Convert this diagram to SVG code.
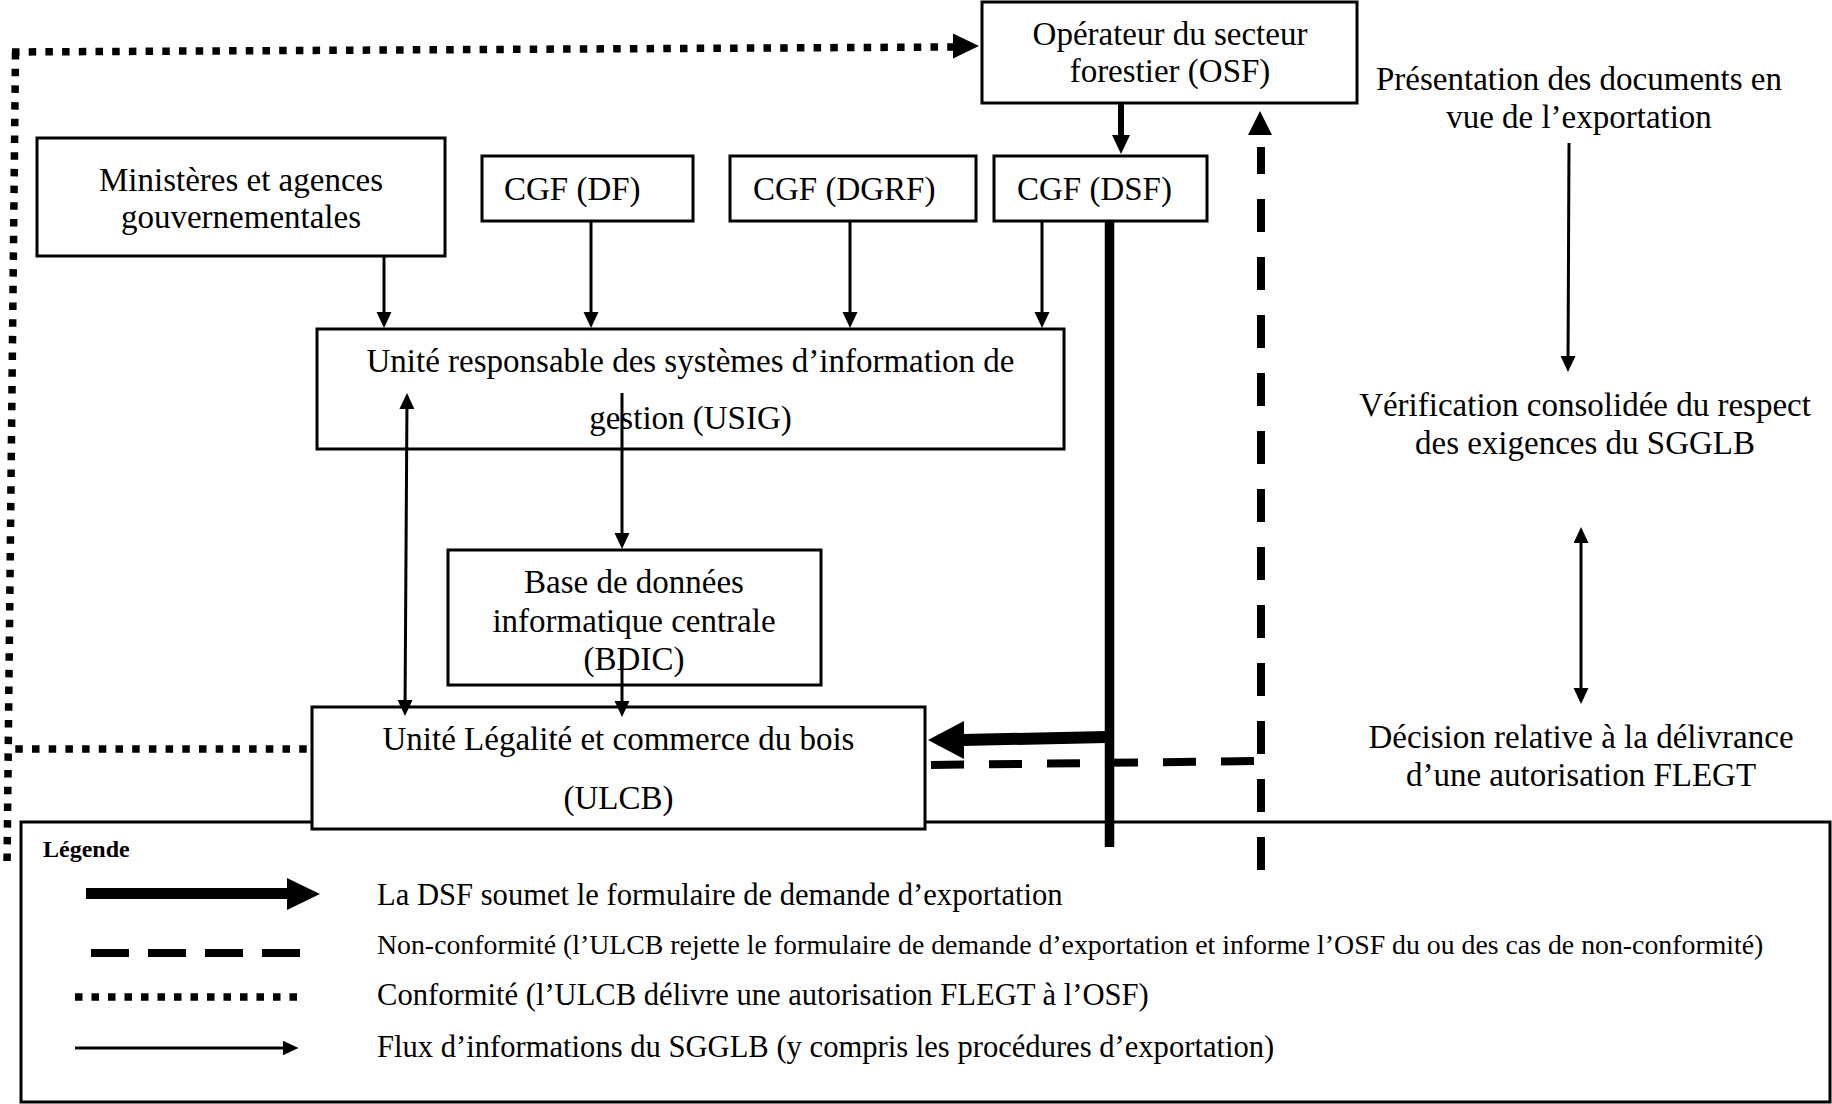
<svg xmlns="http://www.w3.org/2000/svg" width="1832" height="1104" viewBox="0 0 1832 1104">
<style>
.box{fill:#fff;stroke:#000;stroke-width:3}
.t{font-family:"Liberation Serif","Times New Roman",serif;font-size:33px;fill:#000}
.c{text-anchor:middle}
.lg{font-size:30.6px}
.lg2{font-size:27.8px}
.leg{font-size:24px;font-weight:bold}
.thin{fill:none;stroke:#000;stroke-width:3}
.dot{fill:none;stroke:#000;stroke-width:7.5;stroke-dasharray:7.5 9.2}
.dash{fill:none;stroke:#000;stroke-width:8;stroke-dasharray:33 25}
.thick{fill:none;stroke:#000;stroke-width:9.5}
.head{fill:#000}
</style>
<defs>
<marker id="ah" markerUnits="userSpaceOnUse" markerWidth="17" markerHeight="16" refX="12" refY="7.5" orient="auto-start-reverse">
<path d="M0,0 L16,7.5 L0,15 Z" fill="#000"/>
</marker>
</defs>
<rect width="1832" height="1104" fill="#fff"/>

<g id="legend">
<rect class="box" x="21" y="822" width="1809" height="280"/>
<text class="t leg" x="43" y="857">Légende</text>
<path d="M86,893.5 L288,893.5" stroke="#000" stroke-width="11" fill="none"/>
<polygon class="head" points="287,878 320,894 287,910"/>
<path d="M91,953 L300,953" fill="none" stroke="#000" stroke-width="8" stroke-dasharray="38 19"/>
<path class="dot" d="M75,997 L299,997" style="stroke-dasharray:7.5 9"/>
<path class="thin" d="M75,1048 L294.5,1048" marker-end="url(#ah)"/>
<text class="t lg" x="377" y="905">La DSF soumet le formulaire de demande d’exportation</text>
<text class="t lg2" x="377" y="954">Non-conformité (l’ULCB rejette le formulaire de demande d’exportation et informe l’OSF du ou des cas de non-conformité)</text>
<text class="t lg" x="377" y="1005">Conformité (l’ULCB délivre une autorisation FLEGT à l’OSF)</text>
<text class="t lg" x="377" y="1057">Flux d’informations du SGGLB (y compris les procédures d’exportation)</text>
</g>

<g id="osf">
<rect class="box" x="982" y="2" width="375" height="101"/>
<text class="t c" x="1170" y="45">Opérateur du secteur</text>
<text class="t c" x="1170" y="82">forestier (OSF)</text>
</g>
<g id="ministeres">
<rect class="box" x="37" y="138" width="408" height="118"/>
<text class="t c" x="241" y="191">Ministères et agences</text>
<text class="t c" x="241" y="228">gouvernementales</text>
</g>
<g id="cgf-df">
<rect class="box" x="482" y="156" width="211" height="65"/>
<text class="t" x="504" y="200">CGF (DF)</text>
</g>
<g id="cgf-dgrf">
<rect class="box" x="730" y="156" width="246" height="65"/>
<text class="t" x="753" y="200">CGF (DGRF)</text>
</g>
<g id="cgf-dsf">
<rect class="box" x="994" y="156" width="213" height="65"/>
<text class="t" x="1017" y="200">CGF (DSF)</text>
</g>
<g id="usig">
<rect class="box" x="317" y="329" width="747" height="120"/>
<text class="t c" x="690.5" y="372">Unité responsable des systèmes d’information de</text>
<text class="t c" x="690.5" y="429">gestion (USIG)</text>
</g>
<g id="bdic">
<rect class="box" x="448" y="550" width="373" height="135"/>
<text class="t c" x="634" y="593">Base de données</text>
<text class="t c" x="634" y="632">informatique centrale</text>
<text class="t c" x="634" y="670">(BDIC)</text>
</g>
<g id="ulcb">
<rect class="box" x="312" y="707" width="613" height="122"/>
<text class="t c" x="618.5" y="750">Unité Légalité et commerce du bois</text>
<text class="t c" x="618.5" y="809">(ULCB)</text>
</g>
<g id="step-presentation">
<text class="t c" x="1579" y="90">Présentation des documents en</text>
<text class="t c" x="1579" y="128">vue de l’exportation</text>
</g>
<g id="step-verification">
<text class="t c" x="1585" y="416">Vérification consolidée du respect</text>
<text class="t c" x="1585" y="454">des exigences du SGGLB</text>
</g>
<g id="step-decision">
<text class="t c" x="1581" y="748">Décision relative à la délivrance</text>
<text class="t c" x="1581" y="786">d’une autorisation FLEGT</text>
</g>

<g id="connectors">
<path class="dot" d="M12,52 L953,47"/>
<polygon class="head" points="953,33.5 979,46 953,58.5"/>
<path class="dot" d="M15.5,52 L7,868"/>
<path class="dot" d="M306.7,749 L12,749"/>
<path class="thin" d="M384,256 L384,324" marker-end="url(#ah)"/>
<path class="thin" d="M591,221 L591,324" marker-end="url(#ah)"/>
<path class="thin" d="M850,221 L850,324" marker-end="url(#ah)"/>
<path class="thin" d="M1042,221 L1042,324" marker-end="url(#ah)"/>
<path class="thin" d="M407,397 L405,712" marker-start="url(#ah)" marker-end="url(#ah)"/>
<path class="thin" d="M622,393 L622,545" marker-end="url(#ah)"/>
<path class="thin" d="M622,650 L622,713" marker-end="url(#ah)"/>
<path class="thin" d="M1569,143 L1568,368" marker-end="url(#ah)"/>
<path class="thin" d="M1581,531 L1581,700" marker-start="url(#ah)" marker-end="url(#ah)"/>
<path d="M1121,103 L1121,137" stroke="#000" stroke-width="6" fill="none"/>
<polygon class="head" points="1112,135 1130,135 1121,154"/>
<path class="thick" d="M1109.5,221 L1109.5,847"/>
<path d="M1107,737 L962,740" stroke="#000" stroke-width="12" fill="none"/>
<polygon class="head" points="964,721 928,740 964,759"/>
<path class="dash" d="M931,765 L1257,761"/>
<path class="dash" d="M1261,870 L1261,147"/>
<polygon class="head" points="1248,135 1272,135 1260,111"/>
</g>
</svg>
